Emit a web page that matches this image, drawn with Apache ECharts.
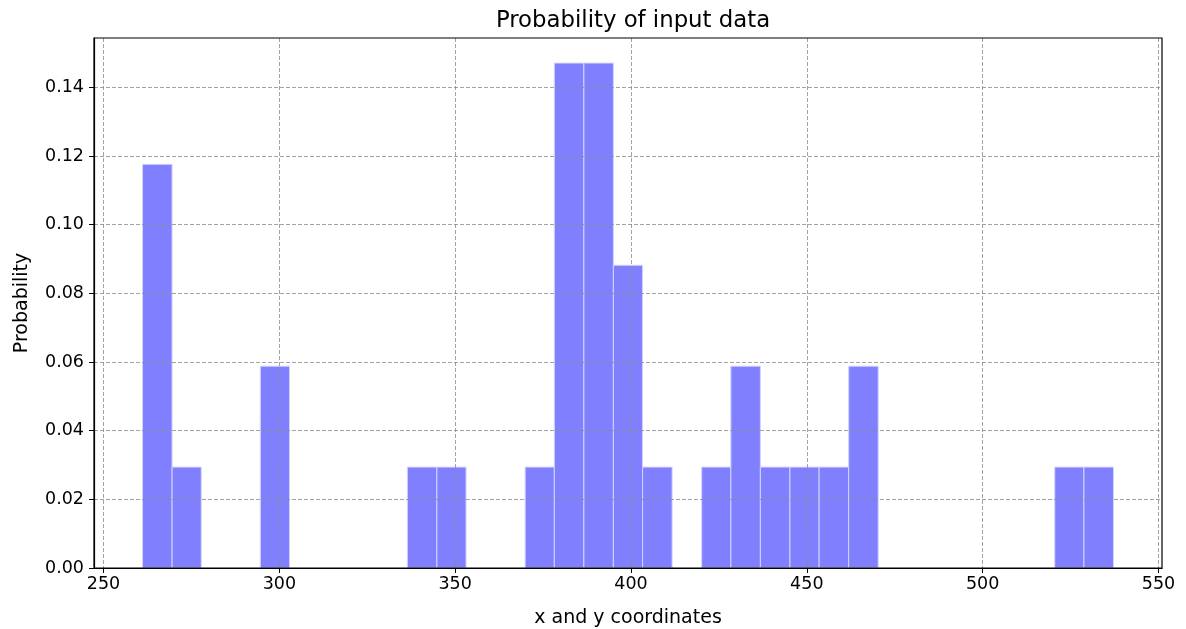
<!DOCTYPE html>
<html><head><meta charset="utf-8">
<script src="https://cdn.jsdelivr.net/npm/echarts@6/dist/echarts.min.js"></script>
<style>html,body{margin:0;padding:0;background:#fff}#c{width:1186px;height:629px}</style>
</head><body><div id="c"></div>
<script>
const binEdges = [261.1, 269.5, 277.8, 286.2, 294.6, 302.9, 311.3, 319.7, 328.0, 336.4, 344.8, 353.1, 361.5, 369.9, 378.2, 386.6, 395.0, 403.3, 411.7, 420.1, 428.4, 436.8, 445.2, 453.5, 461.9, 470.3, 478.6, 487.0, 495.4, 503.7, 512.1, 520.5, 528.8, 537.2];
const probability = [0.1176, 0.0294, 0, 0, 0.0588, 0, 0, 0, 0, 0.0294, 0.0294, 0, 0, 0.0294, 0.1471, 0.1471, 0.0882, 0.0294, 0, 0.0294, 0.0588, 0.0294, 0.0294, 0.0294, 0.0588, 0, 0, 0, 0, 0, 0, 0.0294, 0.0294];
const xTicks = [250, 300, 350, 400, 450, 500, 550];
const yTicks = [0, 0.02, 0.04, 0.06, 0.08, 0.10, 0.12, 0.14];

const data = probability.map((p, i) => [binEdges[i], binEdges[i + 1], p]);
const font = 'DejaVu Sans';
const chart = echarts.init(document.getElementById('c'), null, {renderer: 'canvas'});
chart.setOption({
  animation: false,
  title: {text: 'Probability of input data', left: 628, top: 5, textAlign: 'center',
    textStyle: {fontFamily: font, fontSize: 22.8, fontWeight: 'normal', color: '#000'}},
  grid: {left: 94, right: 24, top: 38, bottom: 61, show: true, borderColor: '#000', borderWidth: 1.2, z: 4,
    containLabel: false, outerBoundsMode: 'none'},
  xAxis: {
    type: 'value', min: 247.3, max: 551.0, z: 3,
    name: 'x and y coordinates', nameLocation: 'middle', nameGap: 41,
    nameTextStyle: {fontFamily: font, fontSize: 19, color: '#000'},
    axisLine: {show: true, onZero: false, lineStyle: {color: '#000', width: 1.2}},
    axisTick: {show: true, length: 5, customValues: xTicks, lineStyle: {color: '#000'}},
    axisLabel: {customValues: xTicks, fontFamily: font, fontSize: 17.5, color: '#000', margin: 7},
    splitLine: {show: true, lineStyle: {color: '#8c8c8c', type: [4, 2], width: 0.8}}
  },
  yAxis: {
    type: 'value', min: 0, max: 0.1544, z: 3,
    name: 'Probability', nameLocation: 'middle', nameGap: 62, nameRotate: 90,
    nameTextStyle: {fontFamily: font, fontSize: 19, color: '#000'},
    axisLine: {show: true, lineStyle: {color: '#000', width: 1.2}},
    axisTick: {show: true, length: 5, customValues: yTicks, lineStyle: {color: '#000'}},
    axisLabel: {customValues: yTicks, fontFamily: font, fontSize: 17.5, color: '#000', margin: 10,
      formatter: v => v.toFixed(2)},
    splitLine: {show: true, lineStyle: {color: '#8c8c8c', type: [4, 2], width: 0.8}}
  },
  series: [{
    type: 'custom',
    data: data,
    encode: {x: [0, 1], y: 2},
    renderItem: function (params, api) {
      const v = api.value(2);
      if (!v) return null;
      const p0 = api.coord([api.value(0), 0]);
      const p1 = api.coord([api.value(1), v]);
      return {
        type: 'rect',
        shape: {x: p0[0], y: p1[1], width: p1[0] - p0[0], height: p0[1] - p1[1]},
        style: {fill: '#8080ff', stroke: '#d4d4ff', lineWidth: 1}
      };
    }
  }]
});
</script></body></html>
